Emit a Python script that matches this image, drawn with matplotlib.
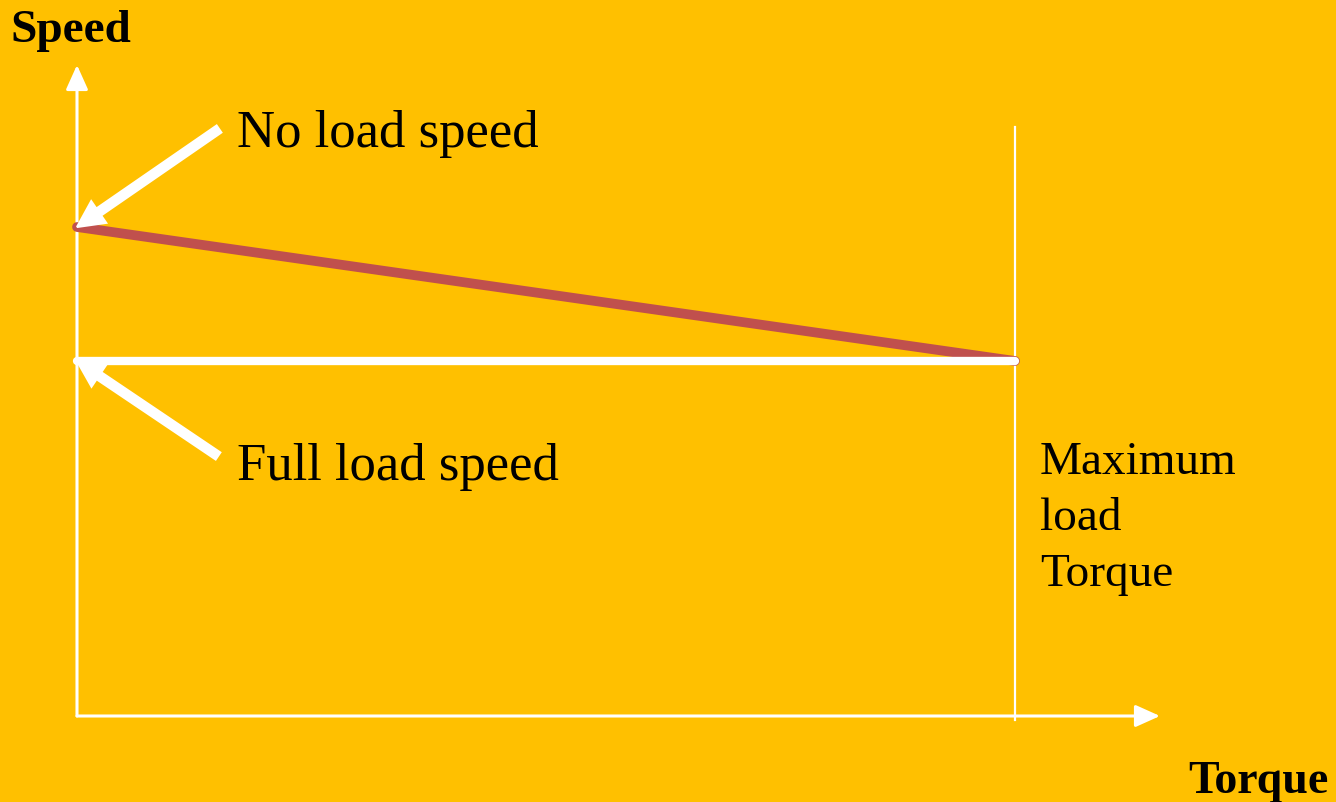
import matplotlib
matplotlib.use("Agg")
import matplotlib.pyplot as plt

# ---- data (normalised units) ----
torque_points = [0.0, 1.0]            # zero torque, maximum load torque
speed_curve = [1.0, 0.726]            # no-load speed -> full-load speed
no_load_speed = 1.0
full_load_speed = 0.726
max_torque = 1.0
labels = ["No load speed", "Full load speed", "Maximum\nload\nTorque"]
x_label = "Torque"
y_label = "Speed"

BG = "#FFC000"
RED = "#C0504D"
W = 1336
H = 802

fig = plt.figure(figsize=(W / 100, H / 100), dpi=100, facecolor=BG)
ax = fig.add_axes([0, 0, 1, 1])
ax.set_facecolor(BG)
# scale: origin at pixel (77,716); 938 px per torque unit, 489 px per speed unit
ax.set_xlim(-77 / 938, (W - 77) / 938)
ax.set_ylim((716 - H) / 489, 716 / 489)
ax.axis("off")

def fx(px):
    return px / W

def fy(py):
    return 1 - py / H

# axes with arrows
x_end = (1160 - 77) / 938
y_end = (716 - 65) / 489
ax.annotate("", xy=(x_end, 0), xytext=(0, 0),
            arrowprops=dict(arrowstyle="-|>,head_length=1.0,head_width=0.45",
                            mutation_scale=15, lw=2.2, color="white",
                            shrinkA=0, shrinkB=0))
ax.annotate("", xy=(0, y_end), xytext=(0, 0),
            arrowprops=dict(arrowstyle="-|>,head_length=1.0,head_width=0.45",
                            mutation_scale=15, lw=2.2, color="white",
                            shrinkA=0, shrinkB=0))

# maximum torque vertical line
ax.plot([max_torque, max_torque], [-0.008, (716 - 127) / 489], color="white",
        lw=1.6, zorder=2)

# speed-torque line
ax.plot(torque_points, speed_curve, color=RED, lw=7, solid_capstyle="round",
        zorder=3)
# full load speed line
ax.plot(torque_points, [full_load_speed, full_load_speed], color="white",
        lw=6, solid_capstyle="round", zorder=4)

# pointer arrows
arr = dict(arrowstyle="simple,head_length=1.0,head_width=1.0,tail_width=0.32",
           mutation_scale=19, lw=1.5, color="white", shrinkA=0, shrinkB=0,
           capstyle="round", joinstyle="miter")
ax.annotate("", xy=(0.0, no_load_speed), xytext=(142, 98),
            textcoords="offset pixels", arrowprops=arr, zorder=5)
ax.annotate("", xy=(0.0, full_load_speed), xytext=(141, -95),
            textcoords="offset pixels", arrowprops=arr, zorder=5)

serif = ["Liberation Serif", "DejaVu Serif"]
fig.text(fx(237), fy(147), labels[0], family=serif, fontsize=38, color="black",
         va="baseline", ha="left")
fig.text(fx(237), fy(480), labels[1], family=serif, fontsize=38, color="black",
         va="baseline", ha="left")
fig.text(fx(1040), fy(474), labels[2].split("\n")[0], family=serif, fontsize=34,
         va="baseline", ha="left")
fig.text(fx(1040), fy(530), labels[2].split("\n")[1], family=serif, fontsize=34,
         va="baseline", ha="left")
fig.text(fx(1040), fy(586), labels[2].split("\n")[2], family=serif, fontsize=34,
         va="baseline", ha="left")
fig.text(fx(10), fy(42), y_label, family=serif, fontsize=34, fontweight="bold",
         va="baseline", ha="left")
fig.text(fx(1188), fy(793), x_label, family=serif, fontsize=33, fontweight="bold",
         va="baseline", ha="left")

fig.savefig("out.png", dpi=100, facecolor=BG)
